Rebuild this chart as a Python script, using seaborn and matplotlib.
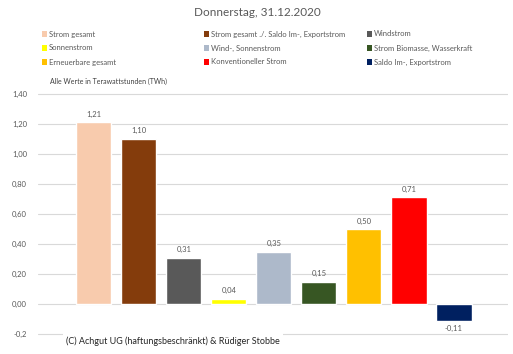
import pandas as pd
import numpy as np
import seaborn as sns
from matplotlib import pyplot as plt
from matplotlib.patches import Rectangle

# Data
categories = ["Strom gesamt", "Strom gesamt ./. Saldo Im-, Exportstrom", "Windstrom",
              "Sonnenstrom", "Wind-, Sonnenstrom", "Strom Biomasse, Wasserkraft",
              "Erneuerbare gesamt", "Konventioneller Strom", "Saldo Im-, Exportstrom"]
values = [1.21, 1.10, 0.31, 0.035, 0.35, 0.15, 0.50, 0.71, -0.11]
labels = ["1,21", "1,10", "0,31", "0,04", "0,35", "0,15", "0,50", "0,71", "-0,11"]
colors = ["#f8cbad", "#843c0c", "#595959", "#ffff00", "#adb9ca",
          "#375623", "#ffc000", "#ff0000", "#002060"]
yticks = [-0.2, 0.0, 0.2, 0.4, 0.6, 0.8, 1.0, 1.2, 1.4]
ytick_labels = ["-0,2", "0,00", "0,20", "0,40", "0,60", "0,80", "1,00", "1,20", "1,40"]

df = pd.DataFrame({"cat": categories, "val": values})

sns.set_style("white")
plt.rcParams['font.family'] = ['Lato', 'DejaVu Sans']
txt = "#595959"

fig = plt.figure(figsize=(5.13, 3.54), dpi=100)
ax = fig.add_axes([38/513, 1-336/354, 470/513, 244/354])

sns.barplot(data=df, x="cat", y="val", hue="cat", palette=colors, order=categories,
            hue_order=categories, legend=False, width=0.78, saturation=1,
            ax=ax, zorder=3)

ax.set_xlim(-1.24, 9.2)
ax.set_ylim(-0.213, 1.413)
ax.set_yticks(yticks)
ax.set_yticklabels(ytick_labels, fontsize=5.5, color=txt)
ax.set_xticks([])
ax.set_xlabel("")
ax.set_ylabel("")
ax.grid(axis="y", color="#d9d9d9", linewidth=0.8, zorder=0)
ax.tick_params(axis="y", length=0, pad=8)
for s in ax.spines.values():
    s.set_visible(False)

for i, (v, lab) in enumerate(zip(values, labels)):
    if v >= 0:
        ax.text(i, v + 0.03, lab, ha="center", va="bottom", fontsize=5.5, color=txt)
    else:
        ax.text(i, v - 0.03, lab, ha="center", va="top", fontsize=5.5, color=txt)

# Title and notes
fig.text(257/513, 1-13/354, "Donnerstag, 31.12.2020", ha="center", va="center",
         fontsize=8.5, color=txt)
fig.text(50/513, 1-81/354, "Alle Werte in Terawattstunden (TWh)", ha="left", va="center",
         fontsize=5, color="#404040")
fig.text(66/513, 1-341/354, "(C) Achgut UG (haftungsbeschränkt) & Rüdiger Stobbe",
         ha="left", va="center", fontsize=6.5, color="#262626",
         bbox=dict(facecolor="white", edgecolor="none", pad=2))

# Legend, row by row
col_x = [44, 206, 369]
row_y = [34, 48, 62]
for k, (name, c) in enumerate(zip(categories, colors)):
    x = col_x[k % 3]
    y = row_y[k // 3]
    fig.patches.append(Rectangle((x/513 - 2/513, 1-y/354 - 2.5/354), 5/513, 5/354,
                                 facecolor=c, edgecolor="none", transform=fig.transFigure))
    fig.text((x + 5)/513, 1-y/354, name, ha="left", va="center", fontsize=5.5, color=txt)

plt.savefig("out.png", dpi=100)
